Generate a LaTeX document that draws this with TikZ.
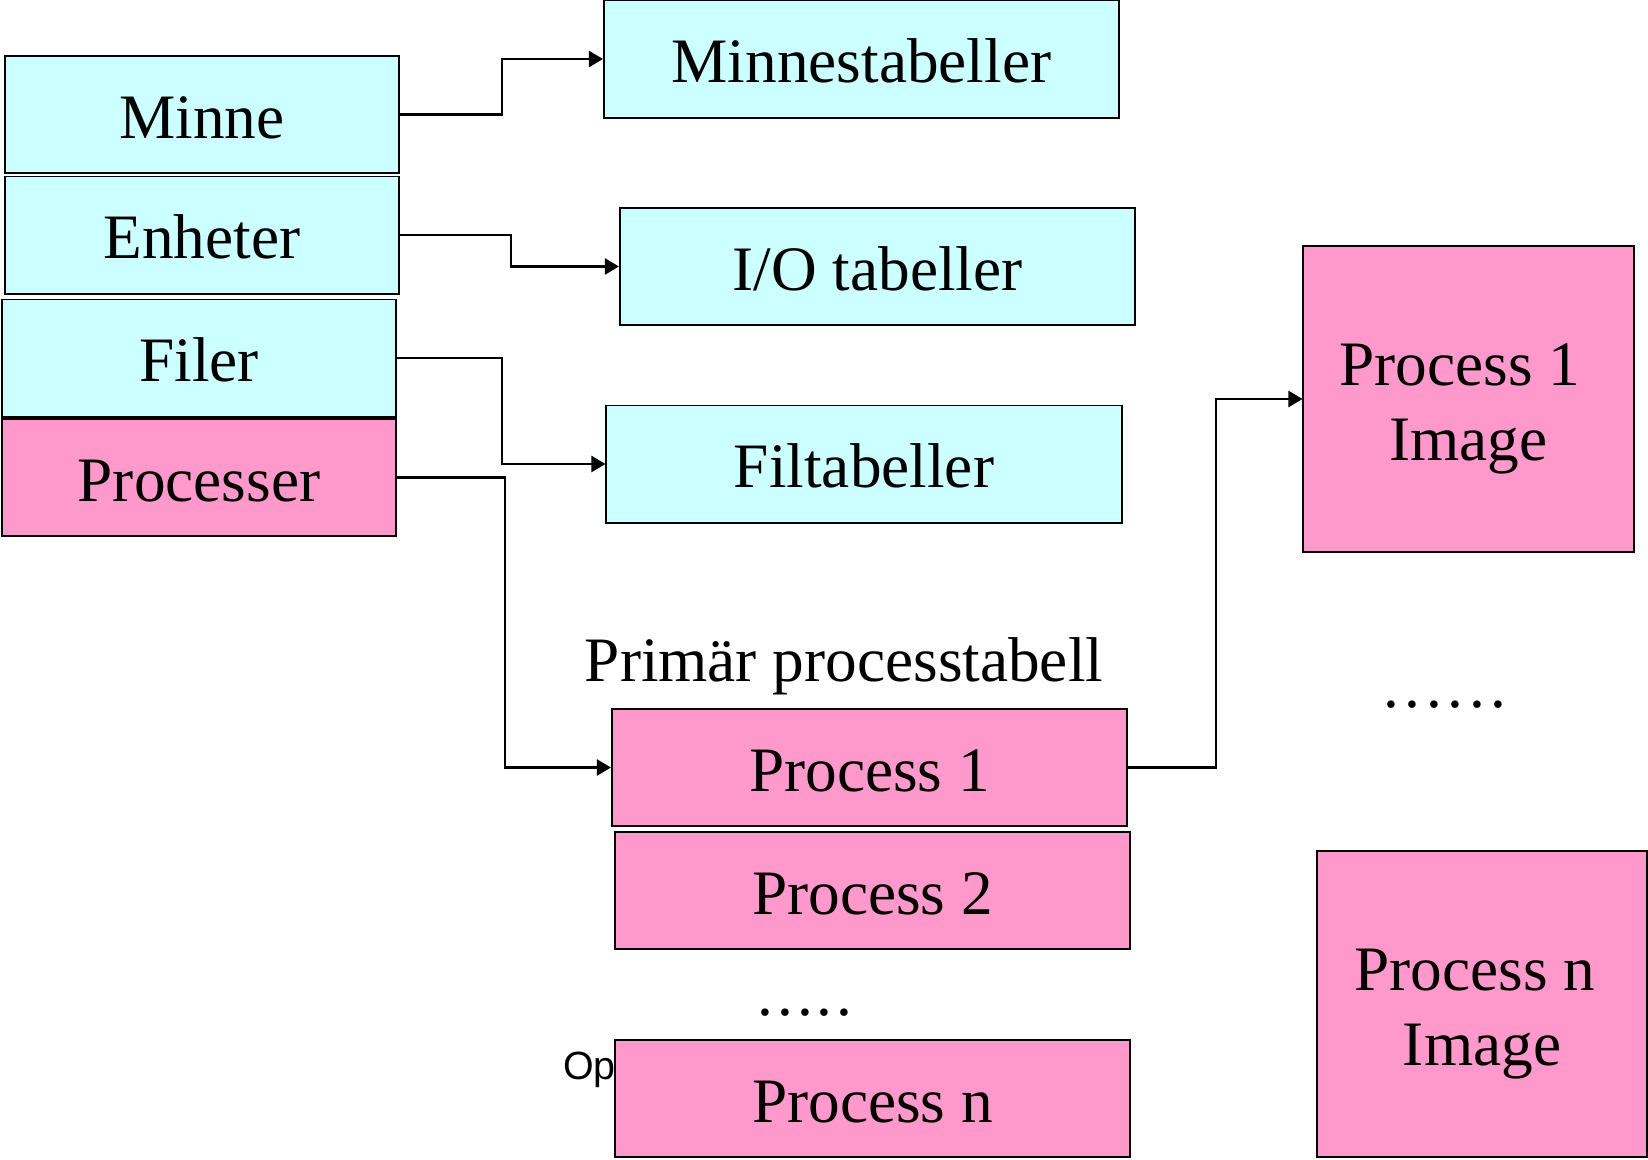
\documentclass[tikz,border=0pt]{standalone}
\usepackage{fontspec}
\setmainfont{Liberation Serif}
\newfontfamily\opfont{Liberation Sans}
\usetikzlibrary{arrows.meta,positioning}
\definecolor{tabcyan}{HTML}{CCFFFF}
\definecolor{procpink}{HTML}{FF99CC}

\begin{document}
\begin{tikzpicture}[x=0.025cm, y=-0.025cm,
		bigfont/.style={font=\fontsize{45}{53}\selectfont},
		dotfont/.style={font=\fontsize{45}{53}\selectfont\addfontfeatures{LetterSpace=#1}},
		box/.style={draw, line width=1.4pt, inner sep=0pt, bigfont,
			text height=42pt, text depth=8pt},
		leftbox/.style={box, minimum width=9.85cm, minimum height=2.925cm},
		tabbox/.style={box, minimum width=12.875cm, minimum height=2.925cm},
		imgbox/.style={draw, line width=1.4pt, inner sep=0pt, bigfont, align=center,
			fill=procpink, minimum width=8.25cm, minimum height=7.65cm},
		link/.style={line width=1.6pt, -{Triangle[length=0.35cm,width=0.4cm]}}]
	\useasboundingbox (0,0) rectangle (1648,1159);
	% left column
	\node [leftbox, fill=tabcyan] (minne) at (202,114.5) {Minne};
	\node [leftbox, fill=tabcyan] (enheter) at (202,235) {Enheter};
	\node [leftbox, fill=tabcyan] (filer) at (199,358) {Filer};
	\node [leftbox, fill=procpink] (processer) at (199,477.5) {Processer};
	% tables
	\node [tabbox, fill=tabcyan] (minnestab) at (861.5,59) {Minnestabeller};
	\node [tabbox, fill=tabcyan] (iotab) at (877.5,266.5) {I/O tabeller};
	\node [tabbox, fill=tabcyan] (filtab) at (864,464) {Filtabeller};
	\node [bigfont, anchor=base] (ptlabel) at (844,681) {Primär processtabell};
	\node [tabbox, fill=procpink] (proc1) at (869.5,767.5) {Process 1};
	\node [tabbox, fill=procpink] (proc2) at (872.5,890.5) {Process 2};
	\node [dotfont=6, anchor=base] (dots) at (805,1015) {.....};
	\node [tabbox, fill=procpink] (procn) at (872.5,1098.5) {Process n};
	\node [font=\opfont\fontsize{28}{32}\selectfont, anchor=base west, inner sep=0pt] (op) at (563,1079) {Op};
	% images
	\node [imgbox] (img1) at (1468.5,399) {\rule{0pt}{44pt}Process 1\hspace*{12pt}\\Image};
	\node [dotfont=9, anchor=base] (imgdots) at (1445,707) {......};
	\node [imgbox] (imgn) at (1482,1004) {\rule{0pt}{44pt}Process n\hspace*{10pt}\\Image};
	% connectors
	\draw [link] (minne.east) -- ++(102,0) |- (minnestab.west);
	\draw [link] (enheter.east) -- ++(111,0) |- (iotab.west);
	\draw [link] (filer.east) -- ++(105,0) |- (filtab.west);
	\draw [link] (processer.east) -- ++(108,0) |- (proc1.west);
	\draw [link] (proc1.east) -- ++(88,0) |- (img1.west);
\end{tikzpicture}
\end{document}
